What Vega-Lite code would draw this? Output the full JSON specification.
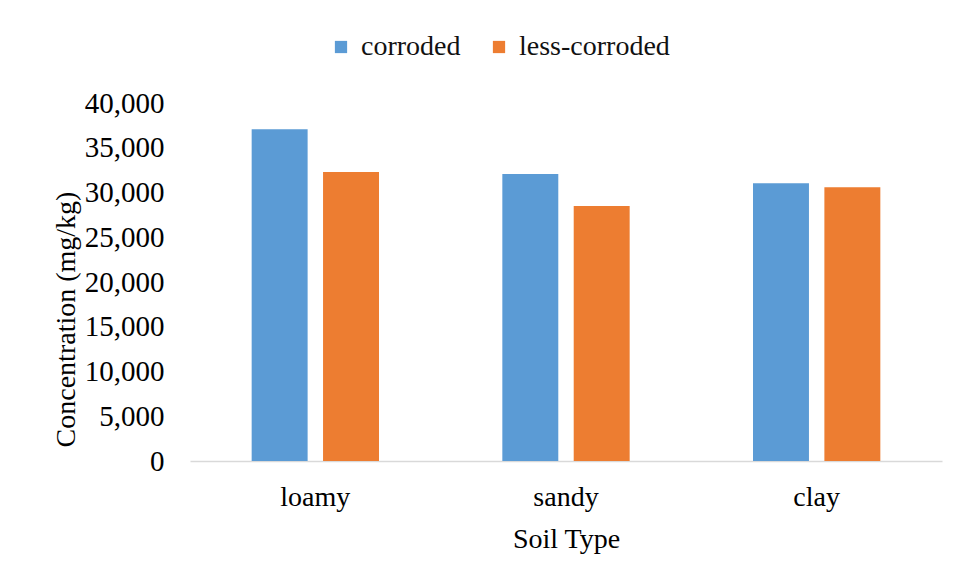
{
  "$schema": "https://vega.github.io/schema/vega-lite/v6.json",
  "autosize": "none",
  "width": 752,
  "height": 358,
  "padding": {"left": 190, "top": 103, "right": 18, "bottom": 120},
  "background": "white",
  "config": {
    "view": {"stroke": null},
    "font": "Liberation Serif",
    "axis": {"labelFont": "Liberation Serif", "titleFont": "Liberation Serif", "labelColor": "black", "titleColor": "black", "titleFontWeight": "normal"},
    "legend": {"labelFont": "Liberation Serif", "labelFontSize": 28, "labelColor": "#111111"}
  },
  "data": {
    "values": [
      {"soil": "loamy", "type": "corroded", "value": 37060},
      {"soil": "loamy", "type": "less-corroded", "value": 32290},
      {"soil": "sandy", "type": "corroded", "value": 32070},
      {"soil": "sandy", "type": "less-corroded", "value": 28490},
      {"soil": "clay", "type": "corroded", "value": 31030},
      {"soil": "clay", "type": "less-corroded", "value": 30580}
    ]
  },
  "mark": {"type": "bar"},
  "encoding": {
    "x": {
      "field": "soil",
      "type": "nominal",
      "sort": ["loamy", "sandy", "clay"],
      "scale": {"paddingInner": 0, "paddingOuter": 0},
      "axis": {
        "title": "Soil Type",
        "titleFontSize": 28,
        "titlePadding": 14,
        "labelFontSize": 28,
        "labelAngle": 0,
        "labelPadding": 22,
        "ticks": false,
        "domainColor": "#d9d9d9",
        "domainWidth": 1.5
      }
    },
    "xOffset": {
      "field": "type",
      "type": "nominal",
      "scale": {"paddingInner": 0.216, "paddingOuter": 0.864}
    },
    "y": {
      "field": "value",
      "type": "quantitative",
      "scale": {"domain": [0, 40000], "nice": false},
      "axis": {
        "title": "Concentration (mg/kg)",
        "titleFontSize": 28,
        "labelFontSize": 29,
        "values": [0, 5000, 10000, 15000, 20000, 25000, 30000, 35000, 40000],
        "format": ",d",
        "domain": false,
        "ticks": false,
        "grid": false,
        "labelPadding": 26,
        "titleAngle": -90,
        "titleAlign": "center",
        "titleBaseline": "alphabetic",
        "titleX": -116,
        "titleY": 216
      }
    },
    "color": {
      "field": "type",
      "type": "nominal",
      "scale": {"domain": ["corroded", "less-corroded"], "range": ["#5B9BD5", "#ED7D31"]},
      "legend": {
        "title": null,
        "orient": "none",
        "direction": "horizontal",
        "legendX": 137,
        "legendY": -70,
        "symbolType": "square",
        "symbolSize": 150,
        "symbolStrokeWidth": 0,
        "labelOffset": 6,
        "columnPadding": 24
      }
    }
  }
}
